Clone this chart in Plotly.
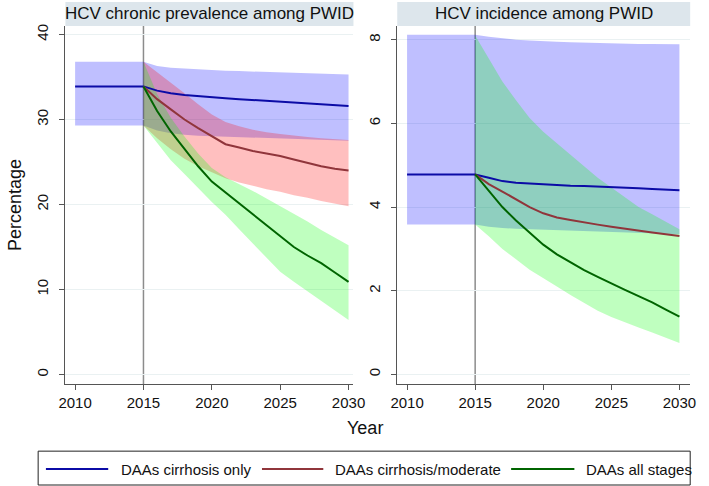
import plotly.graph_objects as go

# years
yrs_all = [2010, 2011, 2012, 2013, 2014, 2015, 2016, 2017, 2018, 2019, 2020,
           2021, 2022, 2023, 2024, 2025, 2026, 2027, 2028, 2029, 2030]
yrs_post = [2015, 2016, 2017, 2018, 2019, 2020, 2021, 2022,
            2023, 2024, 2025, 2026, 2027, 2028, 2029, 2030]

# HCV chronic prevalence (%)
prev_cirr = [33.9, 33.9, 33.9, 33.9, 33.9, 33.9, 33.4, 33.1, 32.9, 32.75, 32.6,
             32.5, 32.4, 32.3, 32.2, 32.1, 32.0, 31.9, 31.8, 31.7, 31.6]
prev_cirr_hi = [36.8, 36.8, 36.8, 36.8, 36.8, 36.8, 36.3, 36.1, 36.0, 35.9, 35.8,
                35.75, 35.7, 35.65, 35.6, 35.55, 35.5, 35.45, 35.4, 35.35, 35.3]
prev_cirr_lo = [29.3, 29.3, 29.3, 29.3, 29.3, 29.3, 28.7, 28.4, 28.2, 28.1, 28.0,
                27.95, 27.9, 27.85, 27.8, 27.75, 27.7, 27.65, 27.6, 27.55, 27.5]
prev_mod = [33.9, 32.4, 31.2, 30.0, 29.0, 28.0, 27.1, 26.7, 26.3, 26.0, 25.7,
            25.3, 24.9, 24.5, 24.2, 24.0]
prev_mod_hi = [36.8, 35.6, 34.4, 33.1, 31.8, 30.6, 29.7, 29.2, 28.8, 28.5, 28.3,
               28.1, 27.95, 27.8, 27.7, 27.6]
prev_mod_lo = [29.3, 27.8, 26.5, 25.4, 24.5, 23.8, 23.1, 22.6, 22.2, 21.8, 21.5,
               21.1, 20.8, 20.4, 20.1, 19.8]
prev_all = [33.9, 31.0, 28.6, 26.5, 24.5, 22.7, 21.4, 20.2, 18.9, 17.5, 16.2,
            15.0, 14.0, 13.1, 12.0, 10.9]
prev_all_hi = [36.8, 33.0, 30.2, 28.0, 26.0, 24.3, 23.2, 22.4, 21.6, 20.7, 19.8,
               18.9, 18.0, 17.0, 16.1, 15.2]
prev_all_lo = [29.3, 27.2, 25.2, 23.6, 22.0, 20.3, 18.8, 17.1, 15.4, 13.7, 12.1,
               10.9, 9.7, 8.6, 7.5, 6.4]

# HCV incidence (%)
inc_cirr = [4.78, 4.78, 4.78, 4.78, 4.78, 4.78, 4.70, 4.62, 4.58, 4.56, 4.54,
            4.53, 4.51, 4.50, 4.49, 4.47, 4.46, 4.45, 4.43, 4.42, 4.40]
inc_cirr_hi = [8.12, 8.12, 8.12, 8.12, 8.12, 8.12, 8.07, 8.03, 8.0, 7.98, 7.96,
               7.95, 7.94, 7.93, 7.92, 7.92, 7.91, 7.90, 7.90, 7.89, 7.89]
inc_cirr_lo = [3.58, 3.58, 3.58, 3.58, 3.58, 3.58, 3.53, 3.50, 3.48, 3.47, 3.45,
               3.44, 3.43, 3.42, 3.41, 3.40, 3.39, 3.38, 3.37, 3.36, 3.35]
inc_mod = [4.78, 4.55, 4.37, 4.18, 4.00, 3.85, 3.75, 3.69, 3.63, 3.58, 3.53,
           3.48, 3.43, 3.39, 3.35, 3.31]
inc_all = [4.78, 4.38, 4.0, 3.68, 3.40, 3.10, 2.87, 2.67, 2.49, 2.33, 2.17,
           2.02, 1.87, 1.72, 1.55, 1.38]
inc_all_hi = [8.1, 7.55, 7.0, 6.55, 6.13, 5.8, 5.52, 5.25, 4.97, 4.7, 4.47,
              4.24, 4.0, 3.83, 3.65, 3.47]
inc_all_lo = [3.58, 3.3, 3.0, 2.75, 2.5, 2.3, 2.1, 1.9, 1.7, 1.52, 1.37,
              1.25, 1.12, 1.0, 0.88, 0.75]

names = ["DAAs cirrhosis only", "DAAs cirrhosis/moderate", "DAAs all stages"]
line_cols = ["#0b0ba6", "#90353b", "#006400"]
band_cols = ["rgba(0,0,255,0.25)", "rgba(255,0,0,0.25)", "rgba(0,255,0,0.25)"]

W, H = 709, 486
FONT = "Liberation Sans, Arial, sans-serif"


def band(x, lo, hi, col, xa, ya):
    return go.Scatter(x=x + x[::-1], y=hi + lo[::-1], fill="toself", fillcolor=col,
                      line=dict(width=0), mode="lines", hoverinfo="skip",
                      showlegend=False, xaxis=xa, yaxis=ya)


def line(x, y, col, xa, ya):
    return go.Scatter(x=x, y=y, mode="lines", line=dict(color=col, width=2),
                      showlegend=False, xaxis=xa, yaxis=ya)


fig = go.Figure()
# left panel
fig.add_trace(band(yrs_all, prev_cirr_lo, prev_cirr_hi, band_cols[0], "x", "y"))
fig.add_trace(band(yrs_post, prev_mod_lo, prev_mod_hi, band_cols[1], "x", "y"))
fig.add_trace(band(yrs_post, prev_all_lo, prev_all_hi, band_cols[2], "x", "y"))
fig.add_trace(line(yrs_all, prev_cirr, line_cols[0], "x", "y"))
fig.add_trace(line(yrs_post, prev_mod, line_cols[1], "x", "y"))
fig.add_trace(line(yrs_post, prev_all, line_cols[2], "x", "y"))
# right panel
fig.add_trace(band(yrs_all, inc_cirr_lo, inc_cirr_hi, band_cols[0], "x2", "y2"))
fig.add_trace(band(yrs_post, inc_all_lo, inc_all_hi, band_cols[2], "x2", "y2"))
fig.add_trace(line(yrs_all, inc_cirr, line_cols[0], "x2", "y2"))
fig.add_trace(line(yrs_post, inc_mod, line_cols[1], "x2", "y2"))
fig.add_trace(line(yrs_post, inc_all, line_cols[2], "x2", "y2"))

ytop = 1 - 24 / H
ybot = 1 - 384 / H

xcommon = dict(tickvals=[2010, 2015, 2020, 2025, 2030], showgrid=False, zeroline=False,
               showline=True, linecolor="#555555", linewidth=1, ticks="outside",
               ticklen=5, tickcolor="#555555", tickfont=dict(size=15, color="#111111"))
ycommon = dict(showgrid=True, gridcolor="#eaf1f2", gridwidth=1, zeroline=False,
               showline=True, linecolor="#555555", linewidth=1, ticks="outside",
               ticklen=5, tickcolor="#555555", tickangle=-90, ticklabelstandoff=5,
               tickfont=dict(size=15, color="#111111"))

fig.update_layout(
    width=W, height=H, margin=dict(l=0, r=0, t=0, b=0),
    paper_bgcolor="white", plot_bgcolor="white",
    font=dict(family=FONT, color="#111111"),
    xaxis=dict(domain=[60 / W, 356 / W], range=[2009.29, 2030.36], anchor="y", **xcommon),
    yaxis=dict(domain=[ybot, ytop], range=[-1.17, 41.02], anchor="x",
               tickvals=[0, 10, 20, 30, 40], **ycommon),
    xaxis2=dict(domain=[401 / W, 702 / W], range=[2009.28, 2030.79], anchor="y2", **xcommon),
    yaxis2=dict(domain=[ybot, ytop], range=[-0.24, 8.33], anchor="x2",
                tickvals=[0, 2, 4, 6, 8], **ycommon),
    showlegend=False,
)

shapes = []
# 2015 reference lines
for xa, ya in (("x", "y"), ("x2", "y2")):
    shapes.append(dict(type="line", xref=xa, yref=ya + " domain", x0=2015, x1=2015,
                       y0=0, y1=1, line=dict(color="#8c8c8c", width=1.5), layer="below"))
# panel title strips
for xa in ("x", "x2"):
    shapes.append(dict(type="rect", xref=xa + " domain", yref="paper", x0=0, x1=1,
                       y0=ytop, y1=1, fillcolor="#dde6ec", line=dict(width=0)))
# legend box
shapes.append(dict(type="rect", xref="paper", yref="paper", x0=32 / W, x1=702 / W,
                   y0=1 - 485 / H, y1=1 - 451 / H, line=dict(color="#222222", width=1),
                   fillcolor="rgba(0,0,0,0)"))
leg_y = 1 - 469 / H
leg_pos = [(40, 104, 115), (262, 325, 335), (518, 583, 593)]
annotations = []
for (a, b, t), nm, col in zip(leg_pos, names, line_cols):
    shapes.append(dict(type="line", xref="paper", yref="paper", x0=a / W, x1=b / W,
                       y0=leg_y, y1=leg_y, line=dict(color=col, width=2)))
    annotations.append(dict(text=nm, xref="paper", yref="paper", x=t / W, y=leg_y,
                            xanchor="left", yanchor="middle", showarrow=False,
                            font=dict(size=15)))

annotations += [
    dict(text="HCV chronic prevalence among PWID", xref="x domain", yref="paper",
         x=0.5, y=1 - 12 / H, xanchor="center", yanchor="middle",
         showarrow=False, font=dict(size=17)),
    dict(text="HCV incidence among PWID", xref="x2 domain", yref="paper",
         x=0.5, y=1 - 12 / H, xanchor="center", yanchor="middle",
         showarrow=False, font=dict(size=17)),
    dict(text="Year", xref="paper", yref="paper", x=368 / W, y=1 - 428 / H,
         xanchor="center", yanchor="middle", showarrow=False, font=dict(size=18)),
    dict(text="Percentage", xref="paper", yref="paper", x=8 / W, y=1 - 204 / H,
         xanchor="center", yanchor="middle", textangle=-90,
         showarrow=False, font=dict(size=18)),
]
fig.update_layout(shapes=shapes, annotations=annotations)

# the page body has a default 8px margin; drop it so the figure sits at the origin
fig.write_html("out.html", config={"displayModeBar": False},
               post_script="document.body.style.margin='0';")
